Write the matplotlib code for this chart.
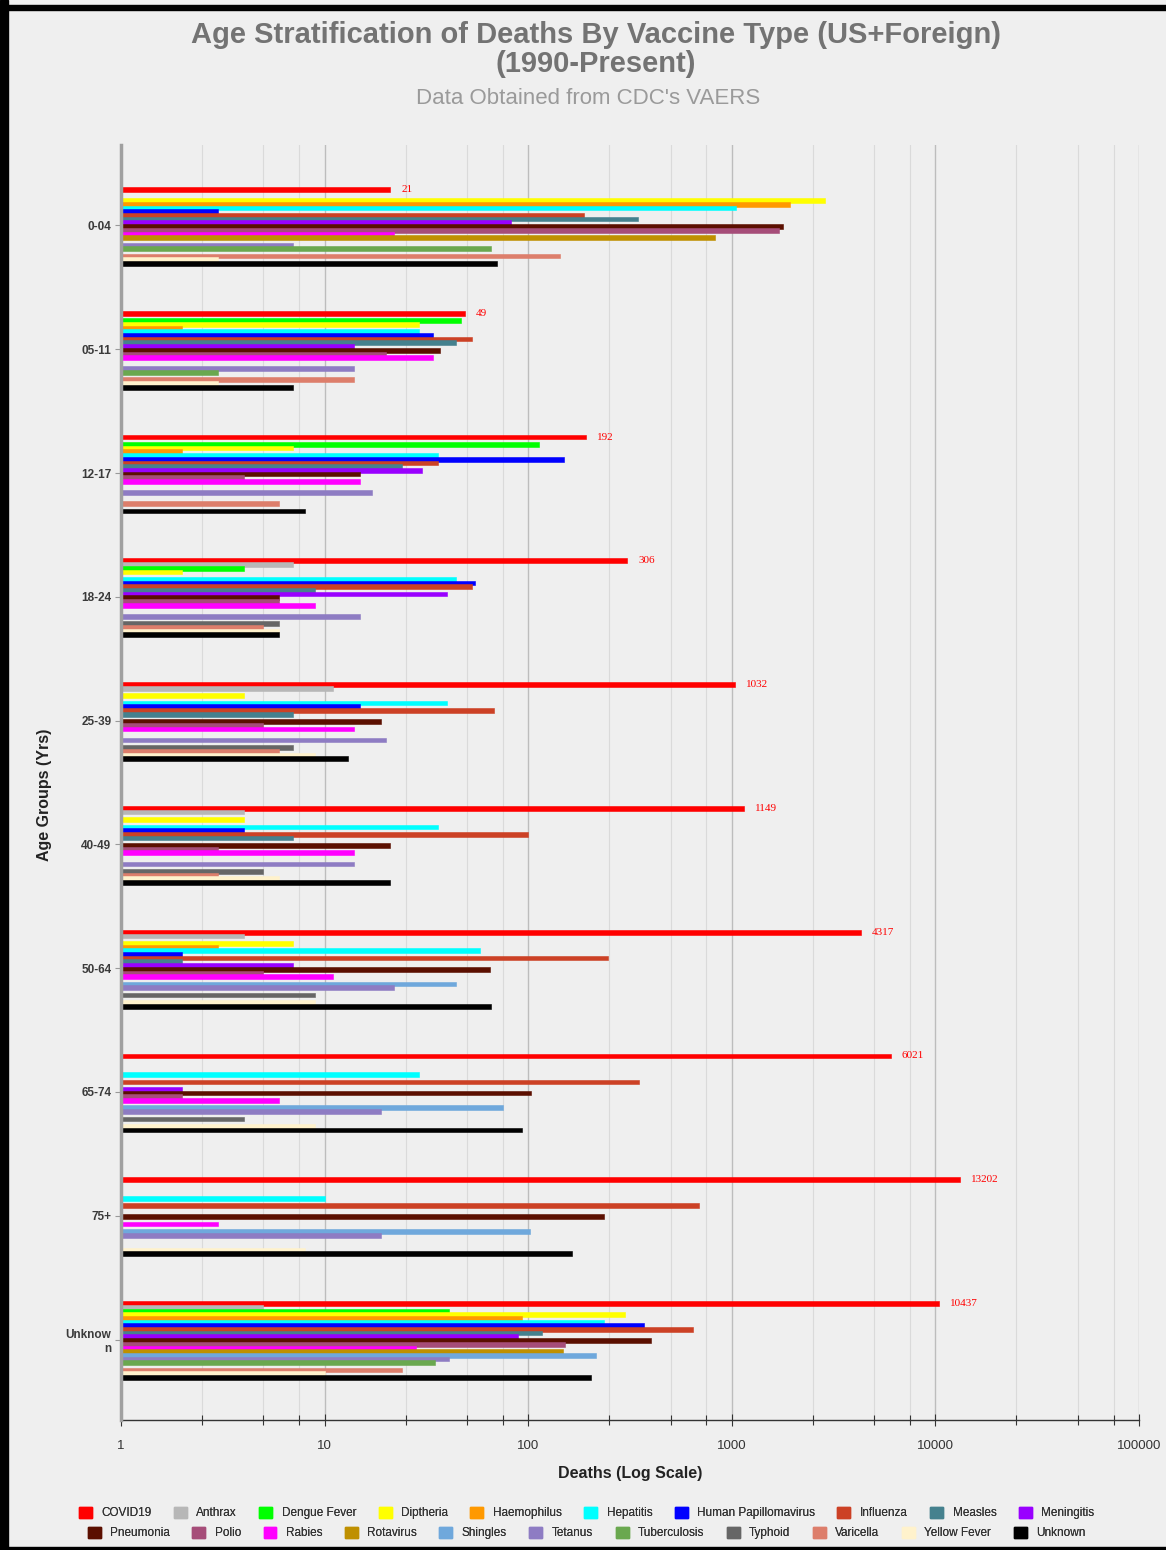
import numpy as np
import matplotlib
matplotlib.use("Agg")
import matplotlib.pyplot as plt
from matplotlib.patches import Patch, Rectangle
from matplotlib.ticker import LogLocator, FixedLocator, NullFormatter

plt.rcParams['font.family'] = ['Liberation Sans', 'DejaVu Sans']

age_groups = ["0-04", "05-11", "12-17", "18-24", "25-39", "40-49",
              "50-64", "65-74", "75+", "Unknow\nn"]

vaccines = ["COVID19", "Anthrax", "Dengue Fever", "Diptheria", "Haemophilus",
            "Hepatitis", "Human Papillomavirus", "Influenza", "Measles",
            "Meningitis", "Pneumonia", "Polio", "Rabies", "Rotavirus",
            "Shingles", "Tetanus", "Tuberculosis", "Typhoid", "Varicella",
            "Yellow Fever", "Unknown"]

colors = ["#ff0000", "#b7b7b7", "#00ff00", "#ffff00", "#ff9900", "#00ffff",
          "#0000ff", "#cc4125", "#45818e", "#9900ff", "#5b0f00", "#a64d79",
          "#ff00ff", "#bf9000", "#6fa8dc", "#8e7cc3", "#6aa84f", "#666666",
          "#dd7e6b", "#fff2cc", "#000000"]

# deaths per vaccine, one value per age group (0 = none)
covid19      = [21, 49, 192, 306, 1032, 1149, 4317, 6021, 13202, 10437]
anthrax      = [0, 0, 0, 7, 11, 4, 4, 0, 0, 5]
dengue       = [0, 47, 113, 4, 0, 0, 0, 0, 0, 41]
diptheria    = [2880, 29, 7, 2, 4, 4, 7, 0, 0, 300]
haemophilus  = [1930, 2, 2, 0, 0, 0, 3, 0, 0, 93]
hepatitis    = [1050, 29, 36, 44, 40, 36, 58, 29, 10, 235]
hpv          = [3, 34, 150, 55, 15, 4, 2, 0, 0, 370]
influenza    = [188, 53, 36, 53, 68, 100, 247, 349, 692, 647]
measles      = [346, 44, 24, 9, 7, 7, 2, 0, 0, 117]
meningitis   = [82, 14, 30, 40, 0, 0, 7, 2, 0, 89]
pneumonia    = [1790, 37, 15, 6, 19, 21, 65, 103, 236, 402]
polio        = [1710, 20, 4, 6, 5, 3, 5, 2, 0, 152]
rabies       = [22, 34, 15, 9, 14, 14, 11, 6, 3, 28]
rotavirus    = [826, 0, 0, 0, 0, 0, 0, 0, 0, 149]
shingles     = [0, 0, 0, 0, 0, 0, 44, 75, 102, 215]
tetanus      = [7, 14, 17, 15, 20, 14, 22, 19, 19, 41]
tuberculosis = [66, 3, 0, 0, 0, 0, 0, 0, 0, 35]
typhoid      = [0, 0, 0, 6, 7, 5, 9, 4, 0, 0]
varicella    = [144, 14, 6, 5, 6, 3, 0, 0, 0, 24]
yellow_fever = [3, 3, 0, 6, 9, 6, 9, 9, 8, 10]
unknown      = [70, 7, 8, 6, 13, 21, 66, 93, 164, 204]

series = [covid19, anthrax, dengue, diptheria, haemophilus, hepatitis, hpv,
          influenza, measles, meningitis, pneumonia, polio, rabies, rotavirus,
          shingles, tetanus, tuberculosis, typhoid, varicella, yellow_fever,
          unknown]

BG = "#efefef"

fig = plt.figure(figsize=(11.66, 15.5), dpi=100, facecolor=BG)
ax = fig.add_axes([121 / 1166, 1 - 1420 / 1550, 1018 / 1166, 1275 / 1550])
ax.set_facecolor(BG)

y = np.arange(len(age_groups))
step = 0.0299
bar_h = 0.038
for i, (vals, c) in enumerate(zip(series, colors)):
    vals = np.array(vals, dtype=float)
    pos = y + (i - 10) * step + 0.008
    m = vals > 0
    ax.barh(pos[m], vals[m] - 1, left=1, height=bar_h, color=c,
            edgecolor=c, linewidth=0.4, zorder=3)
    if i == 0:
        for p, v in zip(pos, vals):
            ax.annotate(str(int(v)), (v, p), xytext=(8, 0),
                        textcoords="offset points", va="center", ha="left",
                        color="#ff0000", fontsize=8,
                        family="Liberation Serif")

ax.set_xscale("log")
ax.set_xlim(1, 100000)
ax.set_ylim(len(age_groups) - 1 + 0.65, -0.65)

ax.xaxis.set_major_locator(FixedLocator([1, 10, 100, 1000, 10000, 100000]))
ax.set_xticklabels(["1", "10", "100", "1000", "10000", "100000"])
ax.xaxis.set_minor_locator(LogLocator(base=10, subs=[2.5, 5, 7.5]))
ax.xaxis.set_minor_formatter(NullFormatter())
ax.grid(which="major", axis="x", color="#bdbdbd", lw=1.0, zorder=0)
ax.grid(which="minor", axis="x", color="#dadada", lw=0.8, zorder=0)
ax.tick_params(axis="x", which="major", direction="inout", length=9,
               width=0.8, color="#333333", labelsize=9.5,
               labelcolor="#333333", pad=10)
ax.tick_params(axis="x", which="minor", direction="inout", length=7,
               width=0.8, color="#333333")

ax.set_yticks(y)
ax.set_yticklabels(age_groups, fontsize=8.5, fontweight="bold",
                   color="#3a3a3a")
ax.tick_params(axis="y", length=4, color="#999999", pad=3)

for s in ["top", "right"]:
    ax.spines[s].set_visible(False)
ax.spines["bottom"].set_color("#333333")
ax.spines["bottom"].set_linewidth(1.0)
ax.spines["left"].set_color("#a0a0a0")
ax.spines["left"].set_linewidth(2.5)
ax.spines["left"].set_zorder(4)

ax.set_xlabel("Deaths (Log Scale)", fontsize=11.5, fontweight="bold",
              color="#222222")
ax.xaxis.set_label_coords(0.5, -46 / 1275)
ax.set_ylabel("Age Groups (Yrs)", fontsize=11.5, fontweight="bold",
              color="#222222")
ax.yaxis.set_label_coords(-(121 - 52) / 1018, 0.49)

fig.text(0.511, 1 - 35 / 1550,
         "Age Stratification of Deaths By Vaccine Type (US+Foreign)",
         ha="center", va="center", fontsize=21, fontweight="bold",
         color="#737373")
fig.text(0.511, 1 - 64 / 1550, "(1990-Present)", ha="center", va="center",
         fontsize=21, fontweight="bold", color="#737373")
fig.text(0.504, 1 - 98 / 1550, "Data Obtained from CDC's VAERS",
         ha="center", va="center", fontsize=16, color="#9a9a9a")

handles = [Patch(facecolor=c, edgecolor=c, label=n)
           for n, c in zip(vaccines, colors)]
for row, (sl, yy) in enumerate([(slice(0, 10), 1513), (slice(10, 21), 1533)]):
    leg = fig.legend(handles=handles[sl], loc="center",
                     bbox_to_anchor=(0.503, 1 - yy / 1550),
                     ncol=len(handles[sl]), frameon=False, fontsize=8.5,
                     handlelength=1.1, handleheight=1.1, handletextpad=0.8,
                     columnspacing=1.9, borderaxespad=0)
    for t in leg.get_texts():
        t.set_color("#333333")
    fig.add_artist(leg)

# screenshot frame
fig.patches.append(Rectangle((0, 0), 8 / 1166, 1, transform=fig.transFigure,
                             color="black", zorder=10))
fig.patches.append(Rectangle((0, 1 - 10 / 1550), 1, 5 / 1550,
                             transform=fig.transFigure, color="black",
                             zorder=10))
fig.patches.append(Rectangle((0, 0), 1, 3 / 1550, transform=fig.transFigure,
                             color="black", zorder=10))

fig.savefig("out.png", dpi=100, facecolor=BG)
